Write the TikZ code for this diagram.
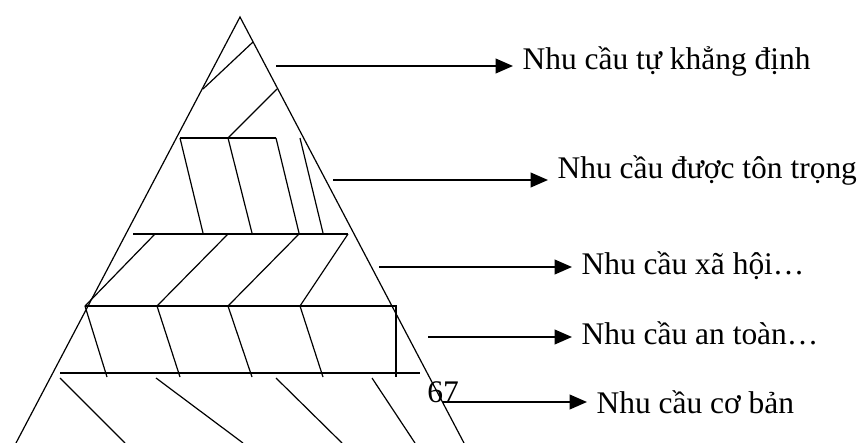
\documentclass[tikz,border=0pt]{standalone}
\usepackage{fontspec}
\setmainfont{Liberation Serif}
\usetikzlibrary{arrows.meta,calc}

\begin{document}
\begin{tikzpicture}[x=0.75pt,y=-0.75pt,
    tier/.style={line width=0.9pt},
    arr/.style={line width=1.3pt,-{Triangle[length=13pt,width=11pt]}},
    lbl/.style={anchor=base west,inner xsep=7pt,inner ysep=0pt,font=\fontsize{23.6}{27}\selectfont}]
    \useasboundingbox (0,0) rectangle (865,443);

    % Pyramid
    \coordinate (apex) at (240,17);
    \coordinate (bl) at (16,443);
    \coordinate (br) at (464,443);
    \draw [tier] (bl) -- (apex) -- (br);

    % Top tier
    \draw [tier] (253,42) -- (203,89);
    \draw [tier] (277,89) -- (228,138);

    % Second tier
    \draw [tier] (180,138) -- (276,138);
    \draw [tier] (180,138) -- (203,233);
    \draw [tier] (228,138) -- (252,233);
    \draw [tier] (276,138) -- (299,233);
    \draw [tier] (300,138) -- (323,233);

    % Third tier
    \draw [tier] (133,234) -- (348,234);
    \draw [tier] (155,234) -- (85,306);
    \draw [tier] (228,234) -- (157,306);
    \draw [tier] (299,234) -- (228,306);
    \draw [tier] (348,234) -- (300,306);

    % Fourth tier
    \draw [tier] (85,306) -- (396,306) -- (396,377);
    \draw [tier] (85,306) -- (107,377);
    \draw [tier] (157,306) -- (180,377);
    \draw [tier] (228,306) -- (252,377);
    \draw [tier] (300,306) -- (323,377);

    % Base tier
    \draw [tier] (60,373) -- (420,373);
    \draw [tier] (60,378) -- (125,443);
    \draw [tier] (156,378) -- (243,443);
    \draw [tier] (276,378) -- (342,443);
    \draw [tier] (372,378) -- (415,443);

    % Page number
    \node [lbl, anchor=base east, inner xsep=0pt] (pg) at (459,402) {67};

    % Labels
    \node [lbl] (l1) at (513,69) {Nhu cầu tự khẳng định};
    \node [lbl] (l2) at (548,178) {Nhu cầu được tôn trọng};
    \node [lbl] (l3) at (572,274) {Nhu cầu xã hội…};
    \node [lbl] (l4) at (572,344) {Nhu cầu an toàn…};
    \node [lbl] (l5) at (587,413) {Nhu cầu cơ bản};

    % Arrows
    \coordinate (s1) at (276,66);
    \coordinate (s2) at (333,180);
    \coordinate (s3) at (379,267);
    \coordinate (s4) at (428,337);
    \coordinate (s5) at (442,402);
    \draw [arr] (s1) -- (s1 -| l1.west);
    \draw [arr] (s2) -- (s2 -| l2.west);
    \draw [arr] (s3) -- (s3 -| l3.west);
    \draw [arr] (s4) -- (s4 -| l4.west);
    \draw [arr] (s5) -- (s5 -| l5.west);
\end{tikzpicture}
\end{document}
